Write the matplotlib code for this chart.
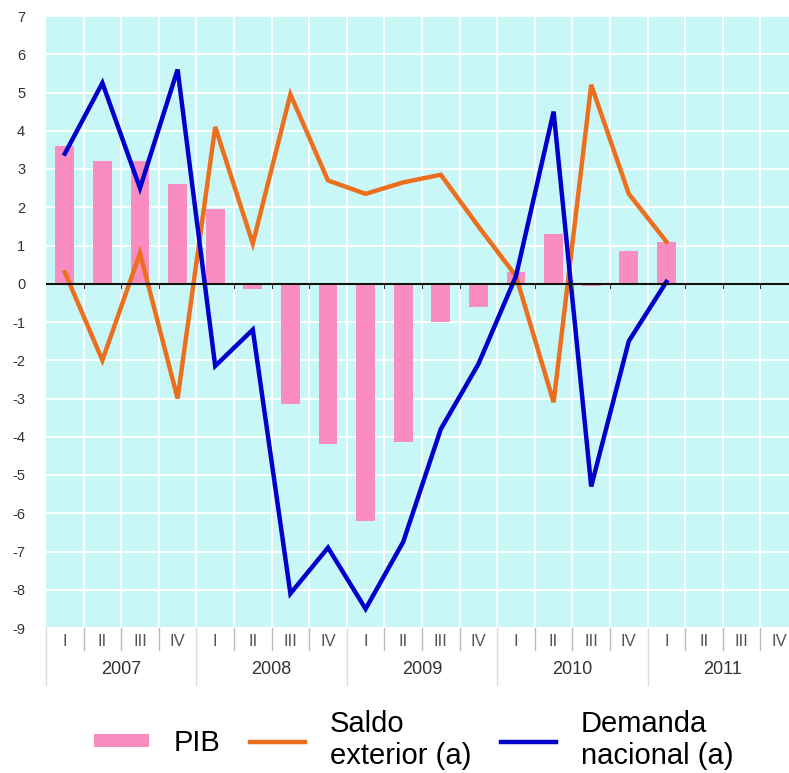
import matplotlib
matplotlib.use('Agg')
import matplotlib.pyplot as plt
import matplotlib.transforms as mtransforms
from matplotlib.patches import Patch
from matplotlib.lines import Line2D
import numpy as np

plt.rcParams['font.family'] = ['Liberation Sans', 'DejaVu Sans']

years = ['2007', '2008', '2009', '2010', '2011']
quarters = ['I', 'II', 'III', 'IV']
pib = [3.6, 3.2, 3.2, 2.6, 1.95, -0.15, -3.15, -4.2, -6.2, -4.15, -1.0, -0.6,
       0.3, 1.3, -0.05, 0.85, 1.1]
saldo = [0.3, -2.0, 0.8, -3.0, 4.1, 1.05, 4.95, 2.7, 2.35, 2.65, 2.85, 1.5,
         0.2, -3.1, 5.2, 2.35, 1.1]
demanda = [3.4, 5.25, 2.5, 5.6, -2.15, -1.2, -8.1, -6.9, -8.5, -6.75, -3.8, -2.1,
           0.2, 4.5, -5.3, -1.5, 0.05]
yticks = list(range(-9, 8))

n_cat = len(years) * len(quarters)
cat_labels = [q for y in years for q in quarters]

W, H = 789, 773
top_px, bot_px, left_px = 16, 628, 46
fig = plt.figure(figsize=(W / 100, H / 100), dpi=100)
ax = fig.add_axes([left_px / W, 1 - bot_px / H, 1 - left_px / W, (bot_px - top_px) / H])
ax.set_facecolor('#C9F7F8')

ax.bar(np.arange(len(pib)), pib, width=0.5, color='#F98DC2', zorder=2)
ax.plot(np.arange(len(saldo)), saldo, color='#EC6F1E', lw=3.2, zorder=3,
        solid_joinstyle='miter')
ax.plot(np.arange(len(demanda)), demanda, color='#0000CC', lw=3.2, zorder=4,
        solid_joinstyle='miter')

ax.set_xlim(-0.5, (W - left_px) / 37.6 - 0.5)
ax.set_ylim(-9, 7)
ax.set_yticks(yticks)
ax.set_yticklabels([str(v) for v in yticks], fontsize=10.5, color='#333333')
ax.tick_params(axis='y', length=0, pad=15)

# grid
for v in yticks:
    ax.axhline(v, color='white', lw=1.4, zorder=1)
for b in np.arange(0.5, n_cat - 0.5, 1.0):
    ax.axvline(b, color='white', lw=1.4, zorder=1)
ax.axhline(0, color='#111111', lw=1.5, zorder=5)

for s in ['top', 'right', 'left', 'bottom']:
    ax.spines[s].set_visible(False)

ax.set_xticks([])
# small ticks on zero line at quarter boundaries (not year boundaries)
for b in np.arange(0.5, n_cat - 0.5, 1.0):
    if int(b + 0.5) % 4 != 0:
        ax.plot([b, b], [0, -0.12], color='#333333', lw=0.8, zorder=5)

axh = bot_px - top_px
trans = mtransforms.blended_transform_factory(ax.transData, ax.transAxes)
for i, lab in enumerate(cat_labels):
    ax.text(i, -14 / axh, lab, transform=trans, ha='center', va='center',
            fontsize=12, color='#555555')
for j, yr in enumerate(years):
    ax.text(j * 4 + 1.5, -41.5 / axh, yr, transform=trans, ha='center',
            va='center', fontsize=13, color='#333333')
for b in np.arange(-0.5, n_cat, 1.0):
    if int(b + 0.5) % 4 == 0:
        ax.plot([b, b], [0, -57 / axh], transform=trans, color='#DDDDDD', lw=1,
                clip_on=False)
    else:
        ax.plot([b, b], [0, -22 / axh], transform=trans, color='#BBBBBB', lw=1,
                clip_on=False)

handles = [Patch(facecolor='#F98DC2', edgecolor='none'),
           Line2D([], [], color='#EC6F1E', lw=3.2),
           Line2D([], [], color='#0000CC', lw=3.2)]
labels = ['PIB', 'Saldo\nexterior (a)', 'Demanda\nnacional (a)']
leg = fig.legend(handles, labels, loc='center', bbox_to_anchor=(0.524, 1 - 740 / H),
                 ncol=3, frameon=False, fontsize=21, handlelength=1.9,
                 handleheight=0.35, columnspacing=1.0, handletextpad=0.85,
                 labelspacing=0.1, borderpad=0, borderaxespad=0)

fig.savefig('out.png', dpi=100)
